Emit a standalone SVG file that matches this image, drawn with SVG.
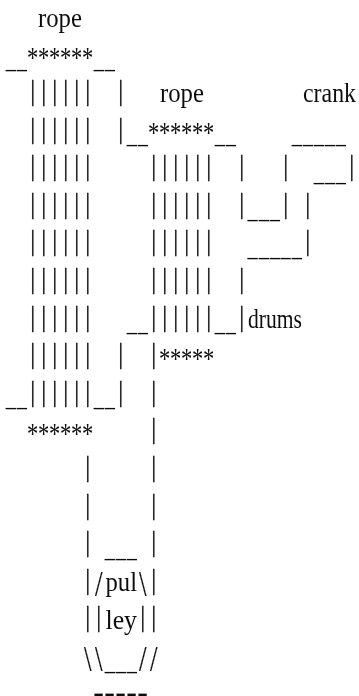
<svg xmlns="http://www.w3.org/2000/svg" width="359" height="696" viewBox="0 0 359 696">
<style>text{font-family:"Liberation Serif",serif;font-size:27px;text-anchor:middle;fill:#111}
.w{text-anchor:start}
.b{font-size:29px;baseline-shift:2.4px;stroke:#111;stroke-width:.45}
.u{baseline-shift:-3px}
.s{font-size:30px;baseline-shift:-2.8px}
.d{font-size:36px;baseline-shift:-4.5px;stroke:#111;stroke-width:.2}</style>
<defs><filter id="soft" filterUnits="userSpaceOnUse" x="0" y="0" width="359" height="696"><feGaussianBlur stdDeviation=".3"/></filter></defs>
<rect width="359" height="696" fill="#fff"/>
<g id="ascii-art" filter="url(#soft)">
<g id="rods" transform="translate(10.7 0) scale(.75 1)">
<text y="64.6" x="0 14.67 29.33 44 58.67 73.33 88 102.67 117.33 132"><tspan class="u">__</tspan><tspan class="s">******</tspan><tspan class="u">__</tspan></text>
<text y="102.2" x="29.33 44 58.67 73.33 88 102.67 146.67"><tspan class="b">|||||||</tspan></text>
<text y="139.8" x="29.33 44 58.67 73.33 88 102.67 146.67 161.33 176 190.67 205.33 220 234.67 249.33 264 278.67 293.33 381.33 396 410.67 425.33 440"><tspan class="b">|||||||</tspan><tspan class="u">__</tspan><tspan class="s">******</tspan><tspan class="u">__</tspan><tspan class="u">_____</tspan></text>
<text y="177.4" x="29.33 44 58.67 73.33 88 102.67 190.67 205.33 220 234.67 249.33 264 308 366.67 410.67 425.33 440 454.67"><tspan class="b">||||||||||||||</tspan><tspan class="u">___</tspan><tspan class="b">|</tspan></text>
<text y="215" x="29.33 44 58.67 73.33 88 102.67 190.67 205.33 220 234.67 249.33 264 308 322.67 337.33 352 366.67 396"><tspan class="b">|||||||||||||</tspan><tspan class="u">___</tspan><tspan class="b">||</tspan></text>
<text y="252.6" x="29.33 44 58.67 73.33 88 102.67 190.67 205.33 220 234.67 249.33 264 322.67 337.33 352 366.67 381.33 396"><tspan class="b">||||||||||||</tspan><tspan class="u">_____</tspan><tspan class="b">|</tspan></text>
<text y="290.2" x="29.33 44 58.67 73.33 88 102.67 190.67 205.33 220 234.67 249.33 264 308"><tspan class="b">|||||||||||||</tspan></text>
<text y="327.8" x="29.33 44 58.67 73.33 88 102.67 161.33 176 190.67 205.33 220 234.67 249.33 264 278.67 293.33 308"><tspan class="b">||||||</tspan><tspan class="u">__</tspan><tspan class="b">||||||</tspan><tspan class="u">__</tspan><tspan class="b">|</tspan></text>
<text y="365.4" x="29.33 44 58.67 73.33 88 102.67 146.67 190.67 205.33 220 234.67 249.33 264"><tspan class="b">||||||||</tspan><tspan class="s">*****</tspan></text>
<text y="403" x="0 14.67 29.33 44 58.67 73.33 88 102.67 117.33 132 146.67 190.67"><tspan class="u">__</tspan><tspan class="b">||||||</tspan><tspan class="u">__</tspan><tspan class="b">||</tspan></text>
<text y="440.6" x="29.33 44 58.67 73.33 88 102.67 190.67"><tspan class="s">******</tspan><tspan class="b">|</tspan></text>
<text y="478.2" x="102.67 190.67"><tspan class="b">||</tspan></text>
<text y="515.8" x="102.67 190.67"><tspan class="b">||</tspan></text>
<text y="553.4" x="102.67 132 146.67 161.33 190.67"><tspan class="b">|</tspan><tspan class="u">___</tspan><tspan class="b">|</tspan></text>
<text y="591" x="102.67 117.33"><tspan class="b">|</tspan><tspan class="d">/</tspan></text>
<text y="591" x="176 190.67"><tspan class="d">\</tspan><tspan class="b">|</tspan></text>
<text y="628.6" x="102.67 117.33"><tspan class="b">||</tspan></text>
<text y="628.6" x="176 190.67"><tspan class="b">||</tspan></text>
<text y="666.2" x="102.67 117.33 132 146.67 161.33 176 190.67"><tspan class="d">\\</tspan><tspan class="u">___</tspan><tspan class="d">//</tspan></text>
</g>
<text y="702" x="98.7 109.7 120.7 131.7 142.7" style="font-size:32px">-----</text>
<text id="rope-left" class="w" x="38" y="27" textLength="44" lengthAdjust="spacingAndGlyphs">rope</text>
<text id="rope-right" class="w" x="160" y="102.2" textLength="44" lengthAdjust="spacingAndGlyphs">rope</text>
<text id="crank" class="w" x="303" y="102.2" textLength="53" lengthAdjust="spacingAndGlyphs">crank</text>
<text id="drums" class="w" x="248" y="327.8" textLength="54" lengthAdjust="spacingAndGlyphs">drums</text>
<text id="pul" class="w" x="105.5" y="591" textLength="31.5" lengthAdjust="spacingAndGlyphs">pul</text>
<text id="ley" class="w" x="105.5" y="628.6" textLength="31.5" lengthAdjust="spacingAndGlyphs">ley</text>
</g>
</svg>
